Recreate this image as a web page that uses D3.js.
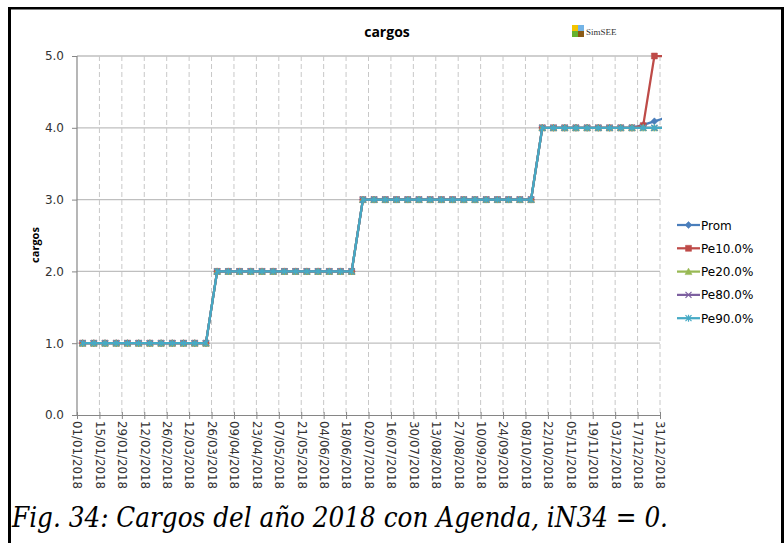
<!DOCTYPE html>
<html>
<head>
<meta charset="utf-8">
<script src="https://cdn.jsdelivr.net/npm/d3@7"></script>
<style>
  body { margin: 0; background: #fff; }
  svg { display: block; }
</style>
</head>
<body>
<div id="root"></div>
<script>
const width = 784;
const height = 543;

// Data

const tickLabels = [
  '01/01/2018', '15/01/2018', '29/01/2018', '12/02/2018', '26/02/2018',
  '12/03/2018', '26/03/2018', '09/04/2018', '23/04/2018', '07/05/2018',
  '21/05/2018', '04/06/2018', '18/06/2018', '02/07/2018', '16/07/2018',
  '30/07/2018', '13/08/2018', '27/08/2018', '10/09/2018', '24/09/2018',
  '08/10/2018', '22/10/2018', '05/11/2018', '19/11/2018', '03/12/2018',
  '17/12/2018', '31/12/2018',
];

const yTicks = [0, 1, 2, 3, 4, 5];

const seriesNames = ['Prom', 'Pe10.0%', 'Pe20.0%', 'Pe80.0%', 'Pe90.0%'];

const prom = [
  1, 1, 1, 1, 1, 1, 1, 1, 1, 1, 1, 1,
  2, 2, 2, 2, 2, 2, 2, 2, 2, 2, 2, 2, 2,
  3, 3, 3, 3, 3, 3, 3, 3, 3, 3, 3, 3, 3, 3, 3, 3,
  4, 4, 4, 4, 4, 4, 4, 4, 4, 4.04, 4.09, 4.14,
];
const pe10 = [
  1, 1, 1, 1, 1, 1, 1, 1, 1, 1, 1, 1,
  2, 2, 2, 2, 2, 2, 2, 2, 2, 2, 2, 2, 2,
  3, 3, 3, 3, 3, 3, 3, 3, 3, 3, 3, 3, 3, 3, 3, 3,
  4, 4, 4, 4, 4, 4, 4, 4, 4, 4.03, 5, 5,
];
const pe20 = [
  1, 1, 1, 1, 1, 1, 1, 1, 1, 1, 1, 1,
  2, 2, 2, 2, 2, 2, 2, 2, 2, 2, 2, 2, 2,
  3, 3, 3, 3, 3, 3, 3, 3, 3, 3, 3, 3, 3, 3, 3, 3,
  4, 4, 4, 4, 4, 4, 4, 4, 4, 4, 4, 4,
];
const pe80 = [
  1, 1, 1, 1, 1, 1, 1, 1, 1, 1, 1, 1,
  2, 2, 2, 2, 2, 2, 2, 2, 2, 2, 2, 2, 2,
  3, 3, 3, 3, 3, 3, 3, 3, 3, 3, 3, 3, 3, 3, 3, 3,
  4, 4, 4, 4, 4, 4, 4, 4, 4, 4, 4, 4,
];
const pe90 = [
  1, 1, 1, 1, 1, 1, 1, 1, 1, 1, 1, 1,
  2, 2, 2, 2, 2, 2, 2, 2, 2, 2, 2, 2, 2,
  3, 3, 3, 3, 3, 3, 3, 3, 3, 3, 3, 3, 3, 3, 3, 3,
  4, 4, 4, 4, 4, 4, 4, 4, 4, 4, 4, 4,
];

// Colors and markers

const colors = ['#4a7ebb', '#be4b48', '#98b954', '#7d60a0', '#46aac5'];
const markers = ['diamond', 'square', 'triangle', 'x', 'star'];

const parseDate = d3.timeParse('%d/%m/%Y');
const tickDates = tickLabels.map(parseDate);

// weekly points, plotted mid-week
const pointDates = prom.map((d, i) =>
  d3.timeHour.offset(d3.timeDay.offset(tickDates[0], 7 * i), 84)
);

const series = [prom, pe10, pe20, pe80, pe90].map((values, i) => ({
  name: seriesNames[i],
  color: colors[i],
  marker: markers[i],
  points: values.map((v, j) => ({ date: pointDates[j], value: v })),
}));

// Scales

const x = d3
  .scaleTime()
  .domain([tickDates[0], tickDates[tickDates.length - 1]])
  .range([77, 660]);

const y = d3.scaleLinear().domain([0, 5]).range([415, 56]);

// Main canvas

const svg = d3
  .select('#root')
  .append('svg')
  .attr('width', width)
  .attr('height', height);

svg.append('rect').attr('width', width).attr('height', height).attr('fill', '#fff');

// Frame

svg.append('rect').attr('x', 8).attr('y', 7).attr('width', 3).attr('height', height - 7).attr('fill', '#000');
svg.append('rect').attr('x', 8).attr('y', 7).attr('width', width - 8).attr('height', 2.5).attr('fill', '#000');
svg.append('rect').attr('x', 781).attr('y', 7).attr('width', 3).attr('height', height - 7).attr('fill', '#000');

// Title and logo

svg
  .append('text')
  .attr('x', 387)
  .attr('y', 37)
  .attr('text-anchor', 'middle')
  .style('font', 'bold 14px "Open Sans", sans-serif')
  .attr('fill', '#000')
  .text('cargos');

const logo = svg.append('g').attr('transform', 'translate(572,25)');
[
  ['#f4c400', 0, 0],
  ['#74b4e6', 6, 0],
  ['#66b32e', 0, 6],
  ['#8a5a16', 6, 6],
].forEach(([c, dx, dy]) => {
  logo.append('rect').attr('x', dx).attr('y', dy).attr('width', 6).attr('height', 6).attr('fill', c);
});
logo
  .append('text')
  .attr('x', 14)
  .attr('y', 10)
  .style('font', '9px "Liberation Serif", serif')
  .attr('fill', '#333')
  .text('SimSEE');

// Grid

const grid = svg.append('g');

grid
  .selectAll('line.h')
  .data(yTicks.slice(1))
  .join('line')
  .attr('class', 'h')
  .attr('x1', 77)
  .attr('x2', 660)
  .attr('y1', (d) => y(d))
  .attr('y2', (d) => y(d))
  .attr('stroke', '#bfbfbf')
  .attr('stroke-width', 1.3);

grid
  .selectAll('line.v')
  .data(tickDates.slice(1))
  .join('line')
  .attr('class', 'v')
  .attr('x1', (d) => x(d))
  .attr('x2', (d) => x(d))
  .attr('y1', 56)
  .attr('y2', 415)
  .attr('stroke', '#c8c8c8')
  .attr('stroke-width', 1)
  .attr('stroke-dasharray', '5,3');

// Axes

const axisColor = '#868686';

const yAxis = svg
  .append('g')
  .attr('transform', 'translate(77,0)')
  .call(
    d3.axisLeft(y).tickValues(yTicks).tickFormat(d3.format('.1f')).tickSize(5).tickPadding(8)
  );

const xAxis = svg
  .append('g')
  .attr('transform', 'translate(0,415)')
  .call(d3.axisBottom(x).tickValues(tickDates).tickFormat((d, i) => tickLabels[i]).tickSize(4).tickSizeOuter(0));

xAxis.selectAll('.tick line').attr('y1', -3).attr('y2', 4);

[yAxis, xAxis].forEach((a) => {
  a.select('.domain').attr('stroke', axisColor).attr('stroke-width', 1.2);
  a.selectAll('.tick line').attr('stroke', axisColor);
  a.selectAll('text').attr('fill', '#333').style('font-family', '"DejaVu Sans", sans-serif');
});

yAxis.selectAll('text').style('font-size', '12px');
yAxis.select('.domain').attr('d', 'M0,56V415');

xAxis
  .selectAll('text')
  .style('font-size', '11.8px')
  .attr('text-anchor', 'start')
  .attr('transform', 'rotate(90)')
  .attr('x', 6)
  .attr('y', 0)
  .attr('dy', '0.35em');

// Y axis title

svg
  .append('text')
  .attr('transform', 'translate(39,245) rotate(-90)')
  .attr('text-anchor', 'middle')
  .style('font', 'bold 11px "Open Sans", sans-serif')
  .attr('fill', '#000')
  .text('cargos');

// Marker paths

function markerPath(type) {
  switch (type) {
    case 'diamond':
      return 'M0,-3.5L3.5,0L0,3.5L-3.5,0Z';
    case 'square':
      return 'M-3,-3H3V3H-3Z';
    case 'triangle':
      return 'M0,-3.5L3.5,3L-3.5,3Z';
    case 'x':
      return 'M-3,-3L3,3M-3,3L3,-3';
    default:
      return 'M-3,-3L3,3M-3,3L3,-3M0,-3.5V3.5';
  }
}

function drawMarker(sel, s) {
  const filled = s.marker === 'diamond' || s.marker === 'square' || s.marker === 'triangle';
  sel
    .attr('d', markerPath(s.marker))
    .attr('fill', filled ? s.color : 'none')
    .attr('stroke', s.color)
    .attr('stroke-width', filled ? 0.5 : 1.2);
}

// Lines

svg
  .append('clipPath')
  .attr('id', 'plot-clip')
  .append('rect')
  .attr('x', 70)
  .attr('y', 40)
  .attr('width', 662 - 70)
  .attr('height', 390);

const line = d3
  .line()
  .x((d) => x(d.date))
  .y((d) => y(d.value));

const plot = svg.append('g').attr('clip-path', 'url(#plot-clip)');

series.forEach((s) => {
  const g = plot.append('g');
  g.append('path')
    .datum(s.points)
    .attr('d', line)
    .attr('fill', 'none')
    .attr('stroke', s.color)
    .attr('stroke-width', 2.25)
    .attr('stroke-linejoin', 'round');

  g.selectAll('path.m')
    .data(s.points)
    .join('path')
    .attr('class', 'm')
    .attr('transform', (d) => `translate(${x(d.date)},${y(d.value)})`)
    .call(drawMarker, s);
});

// Legend

const legend = svg.append('g').attr('transform', 'translate(677,225)');

const item = legend
  .selectAll('g')
  .data(series)
  .join('g')
  .attr('transform', (d, i) => `translate(0,${i * 23.3})`);

item
  .append('line')
  .attr('x1', 0)
  .attr('x2', 23)
  .attr('stroke', (d) => d.color)
  .attr('stroke-width', 2.25);

item.each(function (d) {
  d3.select(this).append('path').attr('transform', 'translate(11.5,0)').call(drawMarker, d);
});

item
  .append('text')
  .attr('x', 24)
  .attr('y', 4.5)
  .style('font', '12px "DejaVu Sans", sans-serif')
  .attr('fill', '#000')
  .text((d) => d.name);

// Caption

svg
  .append('text')
  .attr('x', 12)
  .attr('y', 527)
  .attr('textLength', 656)
  .attr('lengthAdjust', 'spacingAndGlyphs')
  .style('font', 'italic 28px "DejaVu Serif", serif')
  .attr('fill', '#000')
  .text('Fig. 34: Cargos del año 2018 con Agenda, iN34 = 0.');
</script>
</body>
</html>
